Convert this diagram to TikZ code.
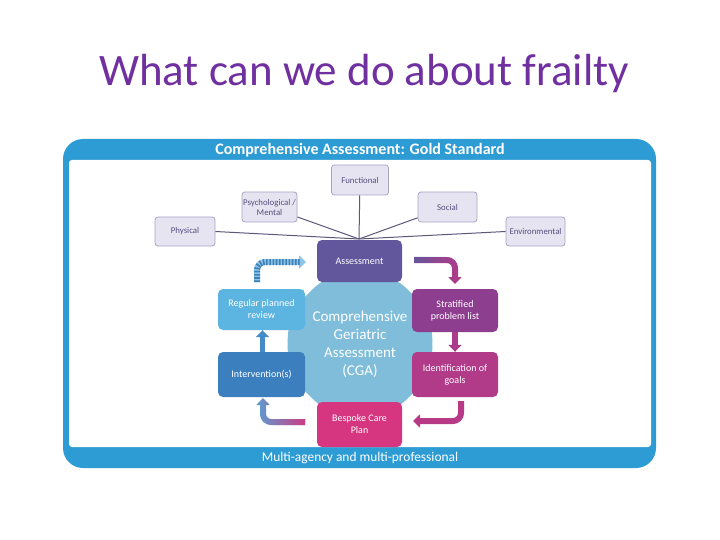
\documentclass[tikz,border=0pt]{standalone}
\usepackage{fontspec}
\setmainfont{Carlito}
\usetikzlibrary{arrows.meta,shapes.geometric,fadings}

\definecolor{titlecol}{RGB}{112,48,160}
\definecolor{framecol}{RGB}{45,155,212}
\definecolor{aspectfill}{RGB}{230,228,241}
\definecolor{aspectline}{RGB}{168,164,196}
\definecolor{aspecttext}{RGB}{88,78,128}
\definecolor{spokecol}{RGB}{92,88,122}
\definecolor{assesscol}{RGB}{98,87,156}
\definecolor{cgacol}{RGB}{127,189,218}
\definecolor{reviewcol}{RGB}{92,180,224}
\definecolor{stratcol}{RGB}{142,62,143}
\definecolor{intervcol}{RGB}{59,127,191}
\definecolor{identcol}{RGB}{177,59,137}
\definecolor{bespokecol}{RGB}{214,54,127}
\definecolor{stripecol}{RGB}{62,127,184}
\definecolor{stripebase}{RGB}{140,196,230}

\tikzset{
  aspect/.style={draw=aspectline, fill=aspectfill, line width=0.8pt, rounded corners=3pt,
    inner sep=1pt, text=aspecttext, font=\fontsize{8.8}{10}\selectfont, align=center},
  spoke/.style={draw=spokecol, line width=1pt},
  cyclebox/.style={rounded corners=5pt, inner sep=1pt, minimum width=86pt, minimum height=43pt,
    text=white, font=\fontsize{10}{12}\selectfont, align=center},
  bigarrow/.style={line width=6pt, rounded corners=8pt, -{Triangle[length=7pt,width=13pt]}},
}

\begin{document}
\begin{tikzpicture}[x=1pt,y=-1pt]
  \useasboundingbox (0,0) rectangle (720,540);
  % title
  \node[text=titlecol, font=\fontsize{45}{50}\selectfont] (title) at (364,74) {What can we do about frailty};
  % frame
  \fill[framecol, rounded corners=20pt] (63,139) rectangle (656,468);
  \fill[white, rounded corners=3pt] (69,160) rectangle (651,447);
  \node[text=white, font=\fontsize{16}{18}\selectfont\bfseries] (head) at (360,150) {Comprehensive Assessment: Gold Standard};
  \node[text=white, font=\fontsize{13.4}{15}\selectfont] (foot) at (360,458) {Multi-agency and multi-professional};

  % aspects of the assessment
  \coordinate (hub) at (359,239);
  \node[aspect, minimum width=57pt, minimum height=30pt] (func) at (360,180) {Functional};
  \node[aspect, minimum width=55pt, minimum height=30pt] (psych) at (269.5,207) {Psychological /\\Mental};
  \node[aspect, minimum width=59pt, minimum height=30pt] (social) at (447.5,207) {Social};
  \node[aspect, minimum width=60pt, minimum height=29pt] (phys) at (185,231.5) {Physical};
  \node[aspect, minimum width=59pt, minimum height=29pt] (env) at (535.5,231.5) {Environmental};
  \draw[spoke] (func) -- (hub);
  \draw[spoke] (psych) -- (hub);
  \draw[spoke] (social) -- (hub);
  \draw[spoke] (phys.east) -- (hub);
  \draw[spoke] (env.west) -- (hub);

  % the cycle
  \node[regular polygon, regular polygon sides=8, minimum size=156pt] (cga) at (360,344) {};
  \fill[cgacol, rounded corners=24pt] (cga.corner 1) -- (cga.corner 2) -- (cga.corner 3) -- (cga.corner 4)
    -- (cga.corner 5) -- (cga.corner 6) -- (cga.corner 7) -- (cga.corner 8) -- cycle;
  \node[text=white, font=\fontsize{15}{18}\selectfont, align=center] (cgatext) at (cga.center)
    {Comprehensive\\Geriatric\\Assessment\\(CGA)};
  \node[cyclebox, fill=assesscol, minimum width=85pt, minimum height=42pt] (assess) at (359.5,261) {Assessment};
  \node[cyclebox, fill=stratcol] (strat) at (455,310.5) {Stratified\\problem list};
  \node[cyclebox, fill=identcol, minimum height=45pt] (ident) at (455,374.5) {Identification of\\goals};
  \node[cyclebox, fill=bespokecol, minimum width=85pt, minimum height=45pt] (bespoke) at (359.5,424.5) {Bespoke Care\\Plan};
  \node[cyclebox, fill=intervcol, minimum width=87pt, minimum height=45pt] (interv) at (261.5,374.5) {Intervention(s)};
  \node[cyclebox, fill=reviewcol, minimum width=87pt, minimum height=41pt] (review) at (261.5,309.5) {Regular planned\\review};

  % arrows between the steps
  \coordinate (a1s) at (257,282);
  \coordinate (a1c) at (257,262);
  \coordinate (a1e) at (306,262);
  \draw[bigarrow, stripebase] (a1s) -- (a1c) -- (a1e);
  \draw[line width=6pt, rounded corners=8pt, stripecol, dash pattern=on 1.6pt off 1.6pt, shorten >=6pt] (a1s) -- (a1c) -- (a1e);

  \coordinate (a2s) at (414,260);
  \coordinate (a2c) at (455,260);
  \coordinate (a2e) at (455,284);
  \draw[bigarrow, identcol] (a2s) -- (a2c) -- (a2e);
  \draw[bigarrow, assesscol, path fading=east] (a2s) -- (a2c) -- (a2e);

  \draw[bigarrow, identcol!85!stratcol] (strat.south) -- (ident.north);

  \coordinate (a4s) at (461,401);
  \coordinate (a4c) at (461,421);
  \coordinate (a4e) at (413,421);
  \draw[bigarrow, identcol!80!bespokecol] (a4s) -- (a4c) -- (a4e);

  \coordinate (a5s) at (305,422);
  \coordinate (a5c) at (263,422);
  \coordinate (a5e) at (263,398);
  \draw[bigarrow, intervcol!80!white] (a5s) -- (a5c) -- (a5e);
  \draw[bigarrow, bespokecol, path fading=west] (a5s) -- (a5c) -- (a5e);

  \draw[bigarrow, intervcol!75!reviewcol, line width=5pt] ([xshift=1pt]interv.north) -- ([xshift=1pt]review.south);
\end{tikzpicture}
\end{document}
